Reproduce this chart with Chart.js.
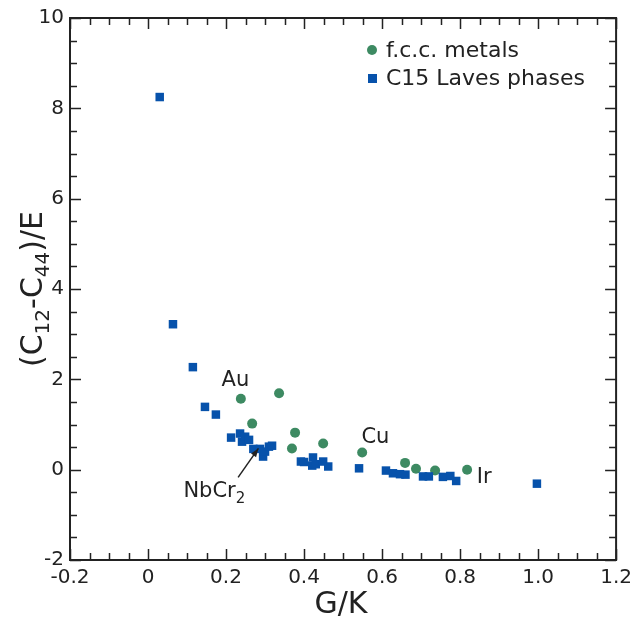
<!DOCTYPE html>
<html>
<head>
<meta charset="utf-8">
<script src="https://cdn.jsdelivr.net/npm/chart.js@4/dist/chart.umd.min.js"></script>
<style>
  html, body { margin: 0; padding: 0; background: #fff; }
  #wrap { width: 638px; height: 621px; }
</style>
</head>
<body>
<div id="wrap"><canvas id="chart" width="638" height="621"></canvas></div>
<script>
// f.c.c. metals (G/K, (C12-C44)/E)
const fccX = [0.238, 0.267, 0.336, 0.369, 0.377, 0.449, 0.549, 0.659, 0.687, 0.736, 0.818];
const fccY = [1.57, 1.02, 1.69, 0.47, 0.82, 0.58, 0.38, 0.15, 0.02, -0.02, 0.0];

// C15 Laves phases
const lavesX = [0.03, 0.064, 0.115, 0.146, 0.174, 0.213, 0.236, 0.241, 0.249, 0.259,
  0.27, 0.287, 0.295, 0.30, 0.31, 0.318, 0.392, 0.40, 0.421, 0.423, 0.43, 0.449, 0.462,
  0.541, 0.61, 0.628, 0.646, 0.66, 0.705, 0.72, 0.756, 0.775, 0.79, 0.997];
const lavesY = [8.25, 3.22, 2.27, 1.39, 1.22, 0.71, 0.80, 0.62, 0.73, 0.66,
  0.46, 0.46, 0.29, 0.40, 0.51, 0.53, 0.18, 0.17, 0.09, 0.27, 0.12, 0.18, 0.07,
  0.03, -0.02, -0.08, -0.10, -0.11, -0.15, -0.15, -0.16, -0.14, -0.25, -0.31];

const seriesNames = ["f.c.c. metals", "C15 Laves phases"];
const xTicks = [-0.2, 0, 0.2, 0.4, 0.6, 0.8, 1.0, 1.2];
const yTicks = [-2, 0, 2, 4, 6, 8, 10];

// text labels placed in data coordinates
const labelText = ["Au", "Cu", "Ir"];
const labelX = [0.224, 0.583, 0.862];
const labelY = [1.98, 0.72, -0.17];

const GREEN = "#3d8a62";
const BLUE = "#0752ab";
const INK = "#222";
const FONT = "'DejaVu Sans', Verdana, sans-serif";

const toPoints = (xs, ys) => xs.map((x, i) => ({ x: x, y: ys[i] }));

// frame, inward ticks, axis titles, legend and labels
const decorPlugin = {
  id: "decor",
  afterDraw(chart) {
    const { ctx, chartArea: a, scales: { x, y } } = chart;
    ctx.save();
    ctx.strokeStyle = INK;
    ctx.lineWidth = 2;
    ctx.strokeRect(a.left, a.top, a.right - a.left, a.bottom - a.top);

    ctx.lineWidth = 1.5;
    ctx.beginPath();
    for (let v = -0.2; v <= 1.2001; v += 0.05) {
      const major = Math.abs(v / 0.2 - Math.round(v / 0.2)) < 1e-6;
      const len = major ? 11 : 7;
      const px = Math.round(x.getPixelForValue(v)) + 0.5;
      ctx.moveTo(px, a.bottom); ctx.lineTo(px, a.bottom - len);
      ctx.moveTo(px, a.top); ctx.lineTo(px, a.top + len);
    }
    for (let v = -2; v <= 10.001; v += 0.5) {
      const major = Math.abs(v / 2 - Math.round(v / 2)) < 1e-6;
      const len = major ? 11 : 7;
      const py = Math.round(y.getPixelForValue(v)) + 0.5;
      ctx.moveTo(a.left, py); ctx.lineTo(a.left + len, py);
      ctx.moveTo(a.right, py); ctx.lineTo(a.right - len, py);
    }
    ctx.stroke();

    // y title with subscripts
    ctx.fillStyle = INK;
    ctx.translate(38, 289);
    ctx.rotate(-Math.PI / 2);
    const parts = [["(C", 0], ["12", 1], ["-C", 0], ["44", 1], [")/E", 0]];
    let total = 0;
    parts.forEach(p => {
      ctx.font = (p[1] ? "20px " : "30px ") + FONT;
      total += ctx.measureText(p[0]).width;
    });
    let cx = -total / 2;
    ctx.textBaseline = "alphabetic";
    parts.forEach(p => {
      ctx.font = (p[1] ? "20px " : "30px ") + FONT;
      ctx.fillText(p[0], cx, p[1] ? 11 : 4);
      cx += ctx.measureText(p[0]).width;
    });
    ctx.setTransform(1, 0, 0, 1, 0, 0);

    // x title
    ctx.font = "30px " + FONT;
    ctx.textAlign = "center";
    ctx.textBaseline = "middle";
    ctx.fillText("G/K", 341, 605);

    // legend
    ctx.textAlign = "left";
    ctx.font = "22px " + FONT;
    ctx.fillStyle = GREEN;
    ctx.beginPath(); ctx.arc(372, 50, 5, 0, Math.PI * 2); ctx.fill();
    ctx.fillStyle = INK;
    ctx.fillText(seriesNames[0], 386, 51);
    ctx.fillStyle = BLUE;
    ctx.fillRect(368, 74, 9, 9);
    ctx.fillStyle = INK;
    ctx.fillText(seriesNames[1], 386, 79);

    // point labels
    ctx.font = "21px " + FONT;
    ctx.textAlign = "center";
    labelText.forEach((t, i) => {
      ctx.fillText(t, x.getPixelForValue(labelX[i]), y.getPixelForValue(labelY[i]));
    });

    // NbCr2 label and arrow
    const lx = x.getPixelForValue(0.17), ly = y.getPixelForValue(-0.49);
    ctx.font = "13px " + FONT;
    ctx.font = "15px " + FONT;
    const sw = ctx.measureText("2").width;
    ctx.font = "21px " + FONT;
    const mainW = ctx.measureText("NbCr").width;
    const startX = lx - (mainW + sw) / 2;
    ctx.textAlign = "left";
    ctx.fillText("NbCr", startX, ly);
    ctx.font = "15px " + FONT;
    ctx.fillText("2", startX + mainW, ly + 7);

    const x0 = x.getPixelForValue(0.231), y0 = y.getPixelForValue(-0.17);
    const x1 = x.getPixelForValue(0.283), y1 = y.getPixelForValue(0.47);
    ctx.strokeStyle = INK;
    ctx.lineWidth = 1.5;
    ctx.beginPath(); ctx.moveTo(x0, y0); ctx.lineTo(x1, y1); ctx.stroke();
    const ang = Math.atan2(y1 - y0, x1 - x0);
    ctx.fillStyle = INK;
    ctx.beginPath();
    ctx.moveTo(x1, y1);
    ctx.lineTo(x1 - 9 * Math.cos(ang - 0.35), y1 - 9 * Math.sin(ang - 0.35));
    ctx.lineTo(x1 - 9 * Math.cos(ang + 0.35), y1 - 9 * Math.sin(ang + 0.35));
    ctx.closePath();
    ctx.fill();
    ctx.restore();
  }
};

new Chart(document.getElementById("chart"), {
  type: "scatter",
  data: {
    datasets: [
      {
        label: seriesNames[1],
        data: toPoints(lavesX, lavesY),
        pointStyle: "rect",
        pointRadius: 6,
        backgroundColor: BLUE,
        borderColor: BLUE,
        borderWidth: 0
      },
      {
        label: seriesNames[0],
        data: toPoints(fccX, fccY),
        pointStyle: "circle",
        pointRadius: 5,
        backgroundColor: GREEN,
        borderColor: GREEN,
        borderWidth: 0
      }
    ]
  },
  options: {
    responsive: false,
    animation: false,
    layout: { padding: { top: 17, right: 21, left: 0, bottom: 0 } },
    plugins: {
      legend: { display: false },
      tooltip: { enabled: false }
    },
    scales: {
      x: {
        type: "linear",
        min: -0.2,
        max: 1.2,
        afterFit: s => { s.height = 61; },
        afterBuildTicks: s => { s.ticks = xTicks.map(v => ({ value: v })); },
        grid: { display: false, drawTicks: false },
        border: { display: false },
        ticks: {
          padding: 6,
          color: INK,
          font: { family: FONT, size: 20 },
          maxRotation: 0,
          callback: v => (v === 0 ? "0" : v.toFixed(1))
        }
      },
      y: {
        type: "linear",
        min: -2,
        max: 10,
        afterFit: s => { s.width = 70; },
        afterBuildTicks: s => { s.ticks = yTicks.map(v => ({ value: v })); },
        grid: { display: false, drawTicks: false },
        border: { display: false },
        ticks: {
          padding: 6,
          color: INK,
          font: { family: FONT, size: 20 },
          callback: v => String(v)
        }
      }
    }
  },
  plugins: [decorPlugin]
});
</script>
</body>
</html>
